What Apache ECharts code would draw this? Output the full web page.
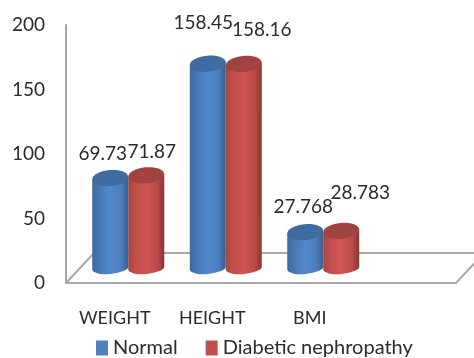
<!DOCTYPE html>
<html>
<head>
<meta charset="utf-8">
<style>html,body{margin:0;padding:0;background:#fff}#chart{width:474px;height:358px}</style>
<script src="https://cdn.jsdelivr.net/npm/echarts@6/dist/echarts.min.js"></script>
</head>
<body>
<div id="chart"></div>
<script>
// The last category stays empty so the floor runs on past the BMI group.
const categories = ['WEIGHT', 'HEIGHT', 'BMI', ''];
const normalValues = [69.73, 158.45, 27.768];
const nephropathyValues = [71.87, 158.16, 28.783];
const normalLabels = ['69.73', '158.45', '27.768'];
const nephropathyLabels = ['71.87', '158.16', '28.783'];
const yTicks = { min: 0, max: 200, interval: 50 };

// Label nudges, in pixels from the centre of each cylinder top.
const normalLabelShift = [[-7.5, -24], [-4.5, -41], [-2, -25]];
const nephropathyLabelShift = [[5.5, -23], [18, -34], [19, -38]];

const FONT = 'Lato, sans-serif';
const TEXT = '#2b2b2b';
const GRID_LINE = '#a8a8a8';
const DEPTH = { x: 28, y: -30 };
const BASE_RISE = 15;
const RX = 18, RY_TOP = 8, RY_FOOT = 6, TILT = -0.09;

const palette = {
  blue: {
    swatch: '#4f81bd', top: '#3f6b9e',
    stops: ['#3c689c', '#4778b5', '#5289cc', '#4b7dbb', '#375e8c']
  },
  red: {
    swatch: '#c0504d', top: '#a04341',
    stops: ['#a64341', '#c24f4c', '#d15653', '#bb4b48', '#863533']
  }
};

function sideGradient(stops) {
  const at = [0, 0.2, 0.5, 0.8, 1];
  return new echarts.graphic.LinearGradient(0, 0, 1, 0,
    stops.map((color, i) => ({ offset: at[i], color })));
}

// One upright cylinder: body with a rounded foot, then the lid on top of it.
function cylinderSeries(name, values, labels, shifts, colors, centerShift) {
  return {
    name,
    type: 'custom',
    coordinateSystem: 'cartesian2d',
    itemStyle: { color: colors.swatch },
    clip: false,
    z: 3,
    data: values.map((v, i) => [i, v]),
    encode: { x: 0, y: 1 },
    renderItem(params, api) {
      const i = api.value(0);
      const topPt = api.coord([i, api.value(1)]);
      const basePt = api.coord([i, 0]);
      const cx = topPt[0] + centerShift;
      const yTop = topPt[1] - BASE_RISE;
      const yBase = basePt[1] - BASE_RISE;
      const dy = Math.sin(-TILT) * RX;
      const deg = TILT * 180 / Math.PI;
      const l = cx - RX, r = cx + RX;
      const body =
        `M${l} ${yTop + dy} L${r} ${yTop - dy} L${r} ${yBase - dy} ` +
        `A${RX} ${RY_FOOT} ${deg} 0 1 ${l} ${yBase + dy} Z`;
      return {
        type: 'group',
        children: [
          { type: 'path', shape: { pathData: body },
            style: { fill: sideGradient(colors.stops) } },
          { type: 'ellipse', x: cx, y: yTop, rotation: -TILT,
            shape: { cx: 0, cy: 0, rx: RX, ry: RY_TOP },
            style: { fill: colors.top } },
          { type: 'text', z2: 10,
            x: cx + shifts[i][0], y: yTop + shifts[i][1],
            style: { text: labels[i], font: '19px ' + FONT, fill: TEXT,
              align: 'center', verticalAlign: 'middle' } }
        ]
      };
    }
  };
}

// Receding floor edges behind the bars.
const floorSeries = {
  type: 'custom',
  coordinateSystem: 'cartesian2d',
  silent: true,
  clip: false,
  z: 1,
  data: [[0, 0]],
  encode: { x: 0, y: 1 },
  renderItem(params) {
    const g = params.coordSys;
    const x0 = g.x, x1 = g.x + g.width, y0 = g.y + g.height;
    return {
      type: 'polyline',
      shape: { points: [
        [x0, y0], [x0 + DEPTH.x, y0 + DEPTH.y],
        [x1 + DEPTH.x, y0 + DEPTH.y], [x1, y0]
      ] },
      style: { fill: 'none', stroke: GRID_LINE, lineWidth: 2 }
    };
  }
};

const chart = echarts.init(document.getElementById('chart'), null, { renderer: 'canvas' });
chart.setOption({
  animation: false,
  backgroundColor: '#fff',
  grid: { left: 66, top: 25, width: 390, height: 258 },
  legend: {
    data: ['Normal', 'Diabetic nephropathy'],
    left: 91, top: 333,
    icon: 'rect', itemWidth: 12, itemHeight: 15, itemGap: 28,
    textStyle: { fontFamily: FONT, fontSize: 20, color: TEXT }
  },
  xAxis: {
    type: 'category',
    data: categories,
    axisTick: { show: false },
    axisLine: { lineStyle: { color: GRID_LINE, width: 2 } },
    axisLabel: { fontFamily: FONT, fontSize: 18, color: TEXT, margin: 26, interval: 0 }
  },
  yAxis: {
    type: 'value',
    min: yTicks.min, max: yTicks.max, interval: yTicks.interval,
    axisLine: { show: true, lineStyle: { color: GRID_LINE, width: 2 } },
    axisTick: { show: false },
    splitLine: { show: false },
    axisLabel: { fontFamily: FONT, fontSize: 19, color: TEXT, margin: 21 }
  },
  series: [
    floorSeries,
    cylinderSeries('Normal', normalValues, normalLabels, normalLabelShift, palette.blue, -4.5),
    cylinderSeries('Diabetic nephropathy', nephropathyValues, nephropathyLabels, nephropathyLabelShift, palette.red, 31.5)
  ]
});
</script>
</body>
</html>
